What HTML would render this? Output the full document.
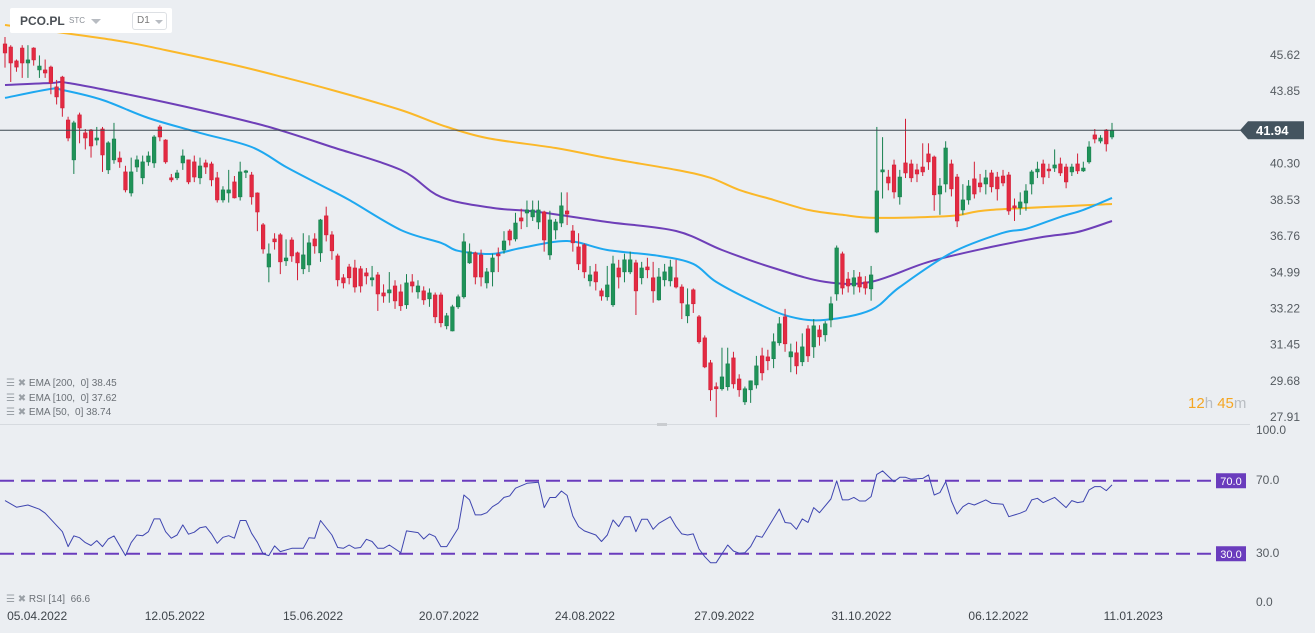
<!DOCTYPE html>
<html><head><meta charset="utf-8">
<style>
html,body{margin:0;padding:0;background:#ebeef2;}
body{width:1315px;height:633px;overflow:hidden;position:relative;font-family:"Liberation Sans",sans-serif;}
svg{position:absolute;left:0;top:0;}
</style></head>
<body>
<svg id="chart" width="1315" height="633"></svg>
<script>
const opens=[46.16,46.01,45.33,45.96,45.23,45.96,44.89,44.89,45.03,44.06,44.54,42.44,40.49,42.69,41.81,41.95,41.46,42.00,40.00,40.49,40.58,39.90,38.87,40.14,39.61,40.39,40.34,42.10,41.46,39.61,39.61,40.34,40.49,40.39,39.61,40.34,40.29,39.61,38.53,38.87,39.41,38.68,39.90,39.75,38.87,37.31,35.25,36.62,36.82,35.55,36.57,35.94,35.16,35.35,36.62,35.94,37.75,36.82,35.79,34.72,35.25,35.20,35.16,34.96,34.62,34.86,33.98,33.98,34.32,34.03,33.40,34.52,34.03,34.08,33.69,33.88,33.88,32.37,32.12,33.30,33.79,35.45,35.94,35.84,34.47,35.01,35.89,36.08,37.01,36.62,37.65,37.89,37.70,37.45,37.94,35.84,37.06,37.40,37.99,37.01,36.23,36.33,34.57,35.01,34.08,33.79,33.40,35.20,35.01,35.01,35.45,34.72,35.25,34.72,33.64,34.62,34.57,34.72,34.27,32.86,34.13,32.81,31.78,30.56,29.39,29.29,29.39,30.80,29.77,28.65,29.24,29.48,30.90,30.85,30.76,31.54,32.81,30.85,31.05,30.61,32.22,31.34,32.17,31.93,32.66,33.93,35.89,34.66,34.32,34.76,34.52,34.18,36.96,39.90,39.65,40.24,38.68,40.34,40.29,40.00,40.14,40.78,40.63,38.82,39.31,40.29,39.65,38.04,38.53,39.56,39.36,39.31,39.85,39.65,39.70,39.75,38.24,38.14,38.38,39.31,39.90,40.29,40.04,40.09,40.29,40.14,39.90,40.29,39.95,40.39,41.71,41.41,41.95,41.61];
const closes=[45.72,45.23,45.03,45.23,45.38,45.38,45.08,44.74,44.25,43.57,43.03,41.56,42.30,42.05,41.56,41.17,41.56,40.73,41.32,41.51,40.39,39.02,39.90,40.49,40.39,40.68,41.61,41.61,40.39,39.51,39.85,40.68,39.41,39.65,40.19,40.14,39.51,38.53,39.02,39.02,38.63,39.90,39.95,38.68,37.94,36.13,35.89,36.48,35.50,35.69,35.79,35.45,35.84,36.43,36.28,37.55,36.82,36.04,34.62,34.47,34.72,34.27,34.32,34.81,34.72,33.93,33.83,34.13,33.59,33.35,34.47,34.32,34.32,33.64,33.98,32.81,32.52,32.86,33.30,33.79,36.48,35.99,34.76,34.76,35.01,35.69,35.79,36.52,36.57,37.40,37.50,38.04,38.04,38.04,36.57,37.55,37.45,38.24,37.84,36.43,35.40,35.01,34.86,34.52,33.83,34.37,35.40,34.76,35.60,35.60,34.08,35.20,35.11,34.08,34.76,35.01,35.25,34.27,33.49,33.40,33.45,31.59,30.36,29.24,29.29,29.87,30.51,29.53,29.24,29.29,29.68,30.41,30.07,30.66,31.59,32.47,31.49,31.10,30.41,31.34,30.90,32.37,31.83,32.47,33.45,36.18,34.22,34.32,34.72,34.27,34.22,34.86,38.97,40.00,39.36,38.92,39.65,39.85,39.61,39.80,39.90,40.39,38.78,39.21,41.07,39.07,37.50,38.53,39.21,38.82,39.17,39.61,39.17,39.07,39.36,37.99,38.14,38.43,38.97,39.90,40.04,39.65,39.95,40.24,39.85,39.41,40.14,39.95,40.09,41.12,41.51,41.56,41.27,41.94];
const highs=[46.5,46.1,45.4,46.1,46.1,46.0,45.6,45.4,45.1,44.4,44.6,42.6,42.4,42.8,42.0,42.0,42.1,42.1,41.4,42.3,40.9,40.2,40.6,40.7,40.7,40.9,41.7,42.2,41.5,39.8,40.0,41.0,40.5,40.7,40.6,40.5,40.4,39.9,39.2,40.0,39.7,40.4,40.0,39.9,38.9,37.4,36.4,36.9,36.9,36.6,36.7,36.0,36.9,36.8,36.9,37.6,38.2,37.0,35.9,34.9,35.4,35.6,35.3,35.2,35.3,35.0,34.4,35.0,34.6,34.4,34.9,34.9,34.6,34.3,34.2,34.0,34.0,33.0,33.4,33.9,36.9,36.4,36.0,36.1,35.2,35.9,36.2,37.0,37.1,37.9,38.1,38.5,38.5,38.5,38.0,38.0,37.6,38.9,38.9,37.3,36.9,36.4,35.3,35.4,34.2,35.3,35.8,35.6,35.9,36.0,35.6,35.5,35.7,35.5,35.2,35.4,35.6,35.6,34.4,34.2,34.2,32.9,31.9,30.7,29.6,31.3,31.3,31.1,30.0,29.4,29.7,30.9,31.3,31.2,32.0,32.8,33.2,31.5,31.6,32.0,32.4,32.7,32.4,32.6,33.8,36.3,36.0,35.0,35.1,35.0,34.8,35.3,42.1,41.6,40.0,40.5,40.0,42.5,40.5,40.3,41.3,41.3,40.7,39.6,41.4,40.5,39.8,39.3,39.5,40.4,39.8,40.0,40.0,39.9,40.0,39.9,38.6,38.9,39.3,40.0,40.4,40.5,40.3,41.0,40.6,40.3,40.3,40.8,40.4,41.4,42.0,41.7,42.0,42.3];
const lows=[45.0,44.3,44.8,44.5,44.5,45.1,44.5,44.5,43.7,43.2,42.6,41.4,39.8,41.3,41.0,40.6,41.2,39.9,39.8,40.3,40.1,38.9,38.7,39.9,39.3,40.2,40.1,41.4,40.3,39.4,39.5,40.0,39.3,39.4,39.3,39.8,39.2,38.4,38.4,38.4,38.6,38.5,39.6,38.3,37.0,35.9,34.5,36.1,34.9,35.3,35.5,34.6,34.9,35.0,35.9,35.5,36.5,35.6,34.3,34.2,34.4,34.0,34.0,34.4,34.3,33.1,33.5,33.5,33.2,33.1,33.2,34.0,33.7,33.4,33.3,32.5,32.3,32.2,32.1,33.2,33.7,35.4,34.4,34.3,34.2,34.3,35.0,35.9,36.3,36.5,37.1,37.2,37.5,37.1,36.0,35.6,36.6,37.2,37.3,36.0,35.1,34.7,34.3,34.1,33.6,33.6,33.3,34.2,34.5,34.9,32.9,34.4,34.7,33.5,33.6,34.3,34.3,34.2,32.7,32.5,33.0,31.5,30.3,28.7,27.9,29.2,29.2,29.3,28.9,28.5,28.6,29.3,29.7,30.2,30.3,31.4,31.1,30.1,30.0,30.4,30.6,30.8,31.4,31.6,32.3,33.6,33.9,34.0,33.9,34.0,33.9,33.6,36.9,38.6,39.0,38.6,38.3,39.6,39.4,39.4,39.7,40.0,38.0,37.8,38.9,38.7,37.2,37.8,38.3,38.6,38.9,38.8,38.9,38.5,39.2,37.8,37.5,37.8,38.0,38.8,39.6,39.3,39.6,39.9,39.7,39.1,39.7,39.8,39.9,40.3,41.3,41.3,40.9,41.5];
const ema200Idx=[0,19,28,40,49,57,69,76,84,96,105,117,123,128,134,140,146,152,165,172,193];
const ema200Val=[47.09,46.35,45.86,45.13,44.50,43.91,42.93,42.20,41.56,41.07,40.58,40.00,39.61,39.02,38.53,38.04,37.80,37.65,37.75,38.04,38.33];
const ema100Idx=[0,8,11,22,34,46,57,69,76,85,93,105,117,125,134,143,151,161,172,181,187,193];
const ema100Val=[44.15,44.25,44.25,43.66,42.93,42.10,41.12,40.00,38.68,38.14,37.94,37.45,37.01,36.08,35.20,34.52,34.52,35.50,36.23,36.72,36.96,37.50];
const ema50Idx=[0,8,10,17,25,34,43,49,55,60,69,76,79,85,90,98,105,114,120,124,131,137,143,151,156,165,174,178,184,188,193];
const ema50Val=[43.52,43.96,43.91,43.42,42.54,41.81,41.12,40.14,39.26,38.53,37.06,36.43,36.04,35.89,36.18,36.52,36.08,35.79,35.40,34.52,33.49,32.81,32.66,33.15,34.27,35.94,36.92,37.11,37.70,38.04,38.63];
const rsiIdx=[0,2,4,6,7,10,11,12,13,14,15,16,17,18,19,21,22,23,24,25,26,27,28,29,30,31,32,33,34,35,36,37,38,39,40,41,42,43,44,45,46,47,48,50,52,53,54,55,57,58,59,60,61,62,63,64,65,66,67,69,70,72,73,74,75,76,77,79,80,81,82,83,84,85,86,87,88,89,91,93,94,95,96,97,98,99,100,101,103,104,105,106,107,108,109,110,111,112,113,114,116,117,118,119,120,121,122,123,124,126,127,128,129,130,131,132,135,136,137,138,139,140,141,142,144,145,146,147,148,149,150,151,152,153,155,156,157,158,160,161,162,163,164,165,166,167,168,169,171,172,174,175,177,178,179,180,181,183,185,186,187,188,189,190,191,192,193];
const rsiVal=[59.1,55.5,56.7,54.4,52.2,42.1,33.9,39.8,38.8,36.1,34.5,37.2,33.9,38.1,39.8,29.0,36.1,40.3,39.9,42.1,49.1,49.1,42.1,38.5,40.3,45.8,40.7,41.8,44.3,44.9,40.9,35.7,39.0,39.9,38.5,48.2,48.2,41.2,36.3,29.9,29.0,34.3,31.2,33.0,33.0,38.8,38.5,48.2,40.3,33.4,33.0,34.8,33.0,33.4,37.9,36.7,33.0,33.0,34.8,30.6,42.5,41.6,38.1,40.9,39.4,33.9,33.9,43.9,62.2,59.5,51.3,51.3,52.5,55.8,57.7,60.9,61.7,65.9,68.6,69.2,55.3,60.8,60.8,64.4,62.0,50.7,44.9,42.5,40.3,36.7,40.3,48.5,44.9,50.3,50.3,42.1,48.9,48.9,43.4,46.7,50.3,44.9,40.9,40.3,40.9,32.6,28.4,25.1,25.1,34.8,31.5,30.3,30.6,33.9,39.8,39.0,54.5,47.1,46.7,43.4,49.1,47.2,55.3,52.5,60.0,69.9,59.5,59.5,60.9,58.9,58.9,61.3,73.5,75.4,69.5,71.9,71.9,70.8,71.3,73.2,62.2,63.5,69.5,58.9,51.8,55.8,57.7,56.7,59.5,57.7,57.1,50.3,52.2,53.6,59.5,60.4,58.0,60.9,55.3,59.1,58.0,58.6,65.0,66.8,66.8,64.6,67.7];
const priceTicks=["45.62","43.85","40.30","38.53","36.76","34.99","33.22","31.45","29.68","27.91"];
const rsiTicks=["100.0","70.0","30.0","0.0"];
const dateLabels=["05.04.2022","12.05.2022","15.06.2022","20.07.2022","24.08.2022","27.09.2022","31.10.2022","06.12.2022","11.01.2023"];
const dateIdx=[5.6,29.6,53.7,77.4,101.1,125.4,149.3,173.2,196.7];
const lastPrice=41.94;

const NS="http://www.w3.org/2000/svg";
const svg=document.getElementById('chart');
const N=closes.length;
const step=1107/(N-1);
const X=i=>5+i*step;
const Y=p=>55+(45.62-p)*20.44;
const RY=v=>608.5-v*1.825;
function mk(tag,attrs,parent){const e=document.createElementNS(NS,tag);for(const k in attrs)e.setAttribute(k,attrs[k]);(parent||svg).appendChild(e);return e;}

let sep=mk('line',{x1:0,y1:424.5,x2:1250,y2:424.5,stroke:'#d6dadf','stroke-width':1});


let hnd=mk('rect',{x:657,y:423,width:10,height:3,fill:'#c9ccd0'});



function smooth(idx,val,color,name,yf,w){
  const p=idx.map((d,k)=>[X(d),yf(val[k])]);
  let d='M'+p[0][0].toFixed(1)+' '+p[0][1].toFixed(1);
  for(let k=0;k<p.length-1;k++){
    const p0=p[Math.max(0,k-1)],p1=p[k],p2=p[k+1],p3=p[Math.min(p.length-1,k+2)];
    const c1=[p1[0]+(p2[0]-p0[0])/6,p1[1]+(p2[1]-p0[1])/6];
    const c2=[p2[0]-(p3[0]-p1[0])/6,p2[1]-(p3[1]-p1[1])/6];
    d+=` C${c1[0].toFixed(1)} ${c1[1].toFixed(1)} ${c2[0].toFixed(1)} ${c2[1].toFixed(1)} ${p2[0].toFixed(1)} ${p2[1].toFixed(1)}`;
  }
  const e=mk('path',{d:d,fill:'none',stroke:color,'stroke-width':w});
  
  
}
function line(idx,val,color,name,yf,w){
  const pts=idx.map((d,k)=>X(d).toFixed(1)+','+yf(val[k]).toFixed(1)).join(' ');
  const e=mk('polyline',{points:pts,fill:'none',stroke:color,'stroke-width':w,'stroke-linejoin':'round'});
  
  
}
smooth(ema200Idx,ema200Val,'#fbb829','ema-200-line',Y,2);
smooth(ema100Idx,ema100Val,'#6e3fb8','ema-100-line',Y,2);
smooth(ema50Idx,ema50Val,'#1ea8f0','ema-50-line',Y,2);

const cg=mk('g',{});


for(let i=0;i<N;i++){
  const up=closes[i]>=opens[i];
  const col=up?'#188050':'#d21f37';
  const x=X(i);
  const w=mk('line',{x1:x,y1:Y(highs[i]),x2:x,y2:Y(lows[i]),stroke:col,'stroke-width':1},cg);
  
  
  const t=Y(Math.max(opens[i],closes[i])),b=Y(Math.min(opens[i],closes[i]));
  const r=mk('rect',{x:x-1.8,y:t,width:3.6,height:Math.max(1.5,b-t),fill:up?'#1f9358':'#e32a42',stroke:col,'stroke-width':0.6},cg);
  
  
}

const ly=Y(lastPrice);
let pl=mk('line',{x1:0,y1:ly,x2:1246,y2:ly,stroke:'#3c4851','stroke-width':1});


let pb=mk('path',{d:`M1240 ${ly} L1248 ${ly-9} L1304 ${ly-9} L1304 ${ly+9} L1248 ${ly+9} Z`,fill:'#44545f'});


let pt=mk('text',{x:1256,y:ly+5,fill:'#fff','font-size':13,'font-weight':'bold'});
pt.textContent=lastPrice.toFixed(2);



priceTicks.forEach(s=>{
  const t=mk('text',{x:1300,y:Y(parseFloat(s))+4,fill:'#555b61','font-size':12,'text-anchor':'end'});
  t.textContent=s;
  
  
});

[70,30].forEach(v=>{
  const d=mk('line',{x1:0,y1:RY(v),x2:1216,y2:RY(v),stroke:'#6a3cbd','stroke-width':2,'stroke-dasharray':'14 7'});
  
  
  const b=mk('rect',{x:1216,y:RY(v)-7.5,width:30,height:15,fill:'#6a3cbd'});
  
  
  const t=mk('text',{x:1231,y:RY(v)+4,fill:'#fff','font-size':11,'text-anchor':'middle'});
  t.textContent=v.toFixed(1);
  
  
});
line(rsiIdx,rsiVal,'#3f46b0','rsi-line',RY,1);
const rsiY={"100.0":434,"70.0":484,"30.0":557,"0.0":606};
rsiTicks.forEach(s=>{
  const t=mk('text',{x:1256,y:rsiY[s],fill:'#555b61','font-size':12});
  t.textContent=s;
  
  
});

dateLabels.forEach((s,k)=>{
  const t=mk('text',{x:X(dateIdx[k]),y:620,fill:'#3f454b','font-size':12,'text-anchor':'middle'});
  t.textContent=s;
  
  
});
</script>

<div style="position:absolute;left:10px;top:8px;width:162px;height:25px;background:#fff;border-radius:2px;">
  <span style="position:absolute;left:10px;top:6px;font-size:12px;font-weight:bold;color:#4a4f55;">PCO.PL</span>
  <span style="position:absolute;left:59px;top:8px;font-size:8px;color:#8a8f96;">STC</span>
  <span style="position:absolute;left:81px;top:11px;width:0;height:0;border-left:5px solid transparent;border-right:5px solid transparent;border-top:5px solid #b8bcc2;"></span>
  <div style="position:absolute;left:122px;top:4px;width:33px;height:16px;border:1px solid #dde0e4;border-radius:3px;">
    <span style="position:absolute;left:4px;top:2px;font-size:10px;color:#777;">D1</span>
    <span style="position:absolute;left:22px;top:7px;width:0;height:0;border-left:4px solid transparent;border-right:4px solid transparent;border-top:4px solid #b8bcc2;"></span>
  </div>
</div>

<div style="position:absolute;left:6px;top:377px;font-size:10px;color:#6b7076;line-height:14.5px;">
  <div><span style="color:#9aa0a6">&#9776; &#10006;</span> EMA [200,&nbsp; 0] 38.45</div>
  <div><span style="color:#9aa0a6">&#9776; &#10006;</span> EMA [100,&nbsp; 0] 37.62</div>
  <div><span style="color:#9aa0a6">&#9776; &#10006;</span> EMA [50,&nbsp; 0] 38.74</div>
</div>
<div style="position:absolute;left:6px;top:594px;font-size:10px;color:#6b7076;"><span style="color:#9aa0a6">&#9776; &#10006;</span> RSI [14]&nbsp; 66.6</div>
<div style="position:absolute;left:1188px;top:395px;font-size:15px;color:#f5a623;">12<span style="color:#b9bdc2">h</span> 45<span style="color:#b9bdc2">m</span></div>
</body></html>
